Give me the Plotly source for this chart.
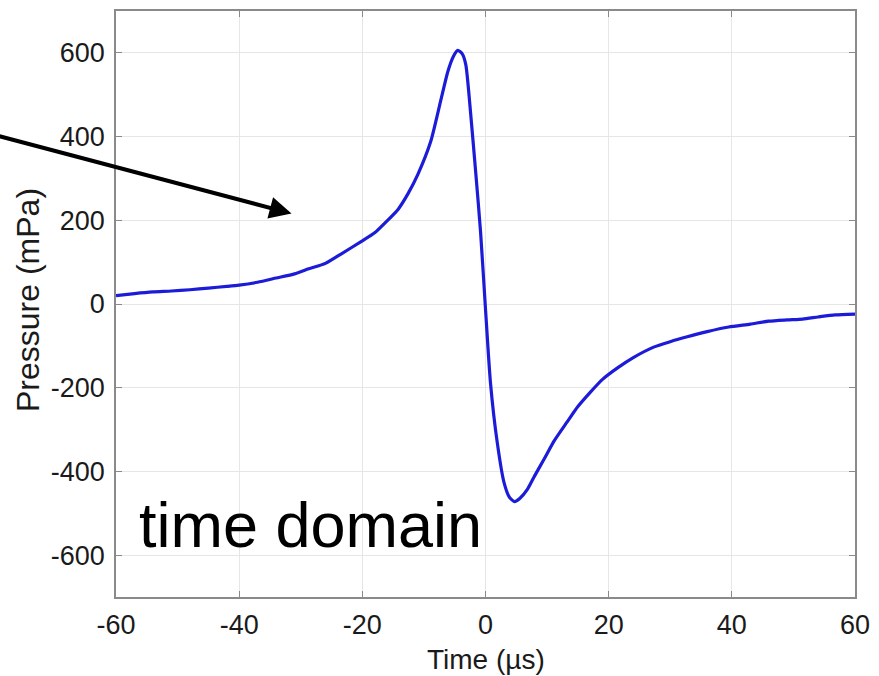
import plotly.graph_objects as go

# Pressure pulse sampled in time (µs) -> pressure (mPa)
time_us = [-60, -57, -54, -51, -48, -45, -42, -40, -37, -34, -31, -28.7, -26,
           -23.4, -20.2, -18, -16.3, -14.2, -12.6, -11, -8.9, -7.3, -6.1, -5.2,
           -4.5, -3.8, -3.2, -2.4, -1.6, -0.8, 0, 0.8, 1.9, 3.0, 3.9, 4.7, 5.6,
           6.8, 8, 9.5, 11.2, 13.2, 15, 17, 19, 21.5, 24, 27.3, 30, 32.6, 36,
           39.5, 43, 46, 49, 51.5, 54, 56.8, 60]
pressure_mpa = [20, 25, 29, 31, 34, 38, 42, 45, 52, 62, 72, 84, 97,
                120, 149, 170, 194, 226, 263, 309, 388, 484, 556, 592,
                606, 598, 572, 453, 316, 172, -12, -187, -330, -426, -462, -472, -464,
                -443, -410, -371, -326, -283, -245, -211, -180, -152, -128, -103, -90, -79, -66,
                -55, -48, -41, -38, -36, -31, -26, -24]

x_ticks = [-60, -40, -20, 0, 20, 40, 60]
x_tick_text = ["-60", "-40", "-20", "0", "20", "40", "60"]
y_ticks = [-600, -400, -200, 0, 200, 400, 600]
y_tick_text = ["-600", "-400", "-200", "0", "200", "400", "600"]

FONT = "Liberation Sans, Arial, Helvetica, sans-serif"

fig = go.Figure()
fig.add_trace(go.Scatter(
    x=time_us, y=pressure_mpa, mode="lines",
    line=dict(color="#1c1cd8", width=3.2, shape="spline", smoothing=0.6),
    showlegend=False, hoverinfo="skip",
))

axis_common = dict(
    showgrid=True, gridcolor="#e6e6e6", gridwidth=1,
    showline=True, linecolor="#8a8a8a", linewidth=1.5, mirror="ticks",
    ticks="inside", ticklen=6, tickcolor="#8a8a8a", tickwidth=1,
    zeroline=False,
    tickfont=dict(family=FONT, size=27, color="#1a1a1a"),
)

fig.update_xaxes(range=[-60, 60], tickvals=x_ticks, ticktext=x_tick_text,
                 ticklabelstandoff=3, **axis_common)
fig.update_yaxes(range=[-700, 700], tickvals=y_ticks, ticktext=y_tick_text,
                 ticklabelstandoff=4, **axis_common)

annotations = [
    # axis titles
    dict(text="Time (µs)", xref="paper", yref="paper", x=0.5, y=0,
         yshift=-62, xanchor="center", yanchor="middle", showarrow=False,
         font=dict(family=FONT, size=28, color="#1a1a1a")),
    dict(text="Pressure (mPa)", xref="paper", yref="paper", x=0, y=0.5,
         xshift=-88, yshift=4, xanchor="center", yanchor="middle", textangle=-90,
         showarrow=False, font=dict(family=FONT, size=32, color="#1a1a1a")),
    # panel label
    dict(text="time domain", xref="x", yref="y", x=-28.4, y=-528,
         xanchor="center", yanchor="middle", showarrow=False,
         font=dict(family=FONT, size=63, color="#000000")),
    # pointer arrow
    dict(text="", xref="x", yref="y", x=-31.5, y=216,
         axref="x", ayref="y", ax=-79.5, ay=403,
         showarrow=True, arrowhead=2, arrowsize=1.1, arrowwidth=4,
         arrowcolor="#000000"),
]

fig.update_layout(
    width=879, height=676,
    margin=dict(l=116, r=19, t=9, b=79),
    paper_bgcolor="white", plot_bgcolor="white",
    annotations=annotations,
)

fig.write_html("out.html")
